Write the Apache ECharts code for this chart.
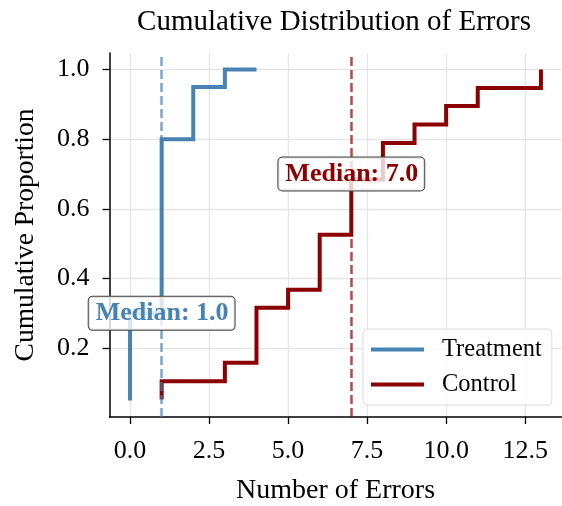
<!DOCTYPE html>
<html>
<head>
<meta charset="utf-8">
<script src="https://cdn.jsdelivr.net/npm/echarts@6/dist/echarts.min.js"></script>
<style>html,body{margin:0;padding:0;background:#fff;}#c{width:562px;height:506px;}</style>
</head>
<body>
<div id="c"></div>
<script>
// Data (ECDF step points)
var treatmentX = [0, 0, 1, 2, 3, 4];
var treatmentY = [0.05, 0.30, 0.80, 0.95, 1.00, 1.00];
var controlX = [1, 1, 3, 4, 5, 6, 7, 8, 9, 10, 11, 13];
var controlY = [0.0526, 0.105, 0.158, 0.316, 0.368, 0.526, 0.684, 0.789, 0.842, 0.895, 0.947, 1.00];
var treatmentMedian = 1.0;
var controlMedian = 7.0;
var treatmentLabelY = 0.30;
var controlLabelY = 0.70;
var xTicks = [0, 2.5, 5, 7.5, 10, 12.5];
var yTicks = [0.2, 0.4, 0.6, 0.8, 1.0];
var seriesNames = ['Treatment', 'Control'];

var BLUE = '#4682B4', RED = '#8B0000';
var FONT = 'Liberation Serif';

function pairs(xs, ys) { return xs.map(function (x, i) { return [x, ys[i]]; }); }

var chart = echarts.init(document.getElementById('c'), null, { renderer: 'canvas' });

function medianLabel(x, y, color) {
  return {
    symbol: 'rect', symbolSize: 0,
    data: [{ coord: [x, y], value: x }],
    label: {
      show: true, position: 'inside',
      formatter: function (p) { return 'Median: ' + Number(p.value).toFixed(1); },
      color: color, fontFamily: FONT, fontWeight: 'bold', fontSize: 26,
      backgroundColor: 'rgba(255,255,255,0.8)', borderColor: '#444', borderWidth: 1,
      borderRadius: 4, padding: [4, 6, 3, 7]
    },
    z: 10
  };
}

chart.setOption({
  animation: false,
  backgroundColor: '#fff',
  title: {
    text: 'Cumulative Distribution of Errors', left: 329, top: 3, textAlign: 'center',
    textStyle: { fontFamily: FONT, fontWeight: 'normal', fontSize: 29, color: '#000' }
  },
  grid: { left: 109.5, right: 0.5, top: 53, bottom: 89, containLabel: false, outerBoundsMode: 'none' },
  legend: {
    data: seriesNames, orient: 'vertical', left: 363, top: 329,
    icon: 'rect', itemWidth: 53, itemHeight: 4, itemGap: 10,
    padding: [8, 10, 8, 8], backgroundColor: 'rgba(255,255,255,0.8)',
    borderColor: '#ddd', borderWidth: 1, borderRadius: 4,
    textStyle: { fontFamily: FONT, fontSize: 24.5, color: '#000', padding: [0, 0, 0, 13], lineHeight: 25 }
  },
  xAxis: {
    type: 'value', min: -0.65, max: 13.65,
    name: 'Number of Errors', nameLocation: 'middle', nameGap: 60,
    nameTextStyle: { fontFamily: FONT, fontSize: 28, color: '#000' },
    axisLine: { onZero: false, lineStyle: { color: '#000', width: 1.5 } },
    axisTick: { show: true, length: 7, lineStyle: { color: '#000', width: 1.3 }, customValues: xTicks },
    axisLabel: { customValues: xTicks, margin: 21, fontFamily: FONT, fontSize: 26, color: '#000',
      formatter: function (v) { return v.toFixed(1); } },
    splitLine: { show: true, lineStyle: { color: '#e6e6e6', width: 1.3 } }
  },
  yAxis: {
    type: 'value', min: 0.0025, max: 1.0475,
    name: 'Cumulative Proportion', nameLocation: 'middle', nameGap: 70,
    nameTextStyle: { fontFamily: FONT, fontSize: 27.5, color: '#000' },
    axisLine: { show: true, onZero: false, lineStyle: { color: '#000', width: 1.5 } },
    axisTick: { show: true, length: 7, lineStyle: { color: '#000', width: 1.3 }, customValues: yTicks },
    axisLabel: { customValues: yTicks, margin: 20, fontFamily: FONT, fontSize: 26, color: '#000',
      formatter: function (v) { return v.toFixed(1); } },
    splitLine: { show: true, lineStyle: { color: '#e6e6e6', width: 1.3 } }
  },
  series: [
    {
      name: seriesNames[1], type: 'line', step: 'end', data: pairs(controlX, controlY),
      showSymbol: false, symbol: 'none', color: RED,
      lineStyle: { color: RED, width: 4, cap: 'butt', join: 'miter' },
      markLine: {
        silent: true, symbol: 'none', label: { show: false },
        lineStyle: { color: RED, opacity: 0.7, width: 2.5, type: [9, 4] },
        data: [{ xAxis: controlMedian }]
      },
      markPoint: medianLabel(controlMedian, controlLabelY, RED),
      z: 3
    },
    {
      name: seriesNames[0], type: 'line', step: 'end', data: pairs(treatmentX, treatmentY),
      showSymbol: false, symbol: 'none', color: BLUE,
      lineStyle: { color: BLUE, width: 4, cap: 'butt', join: 'miter' },
      markLine: {
        silent: true, symbol: 'none', label: { show: false },
        lineStyle: { color: BLUE, opacity: 0.7, width: 2.5, type: [9, 4] },
        data: [{ xAxis: treatmentMedian }]
      },
      markPoint: medianLabel(treatmentMedian, treatmentLabelY, BLUE),
      z: 3
    }
  ]
});
</script>
</body>
</html>
